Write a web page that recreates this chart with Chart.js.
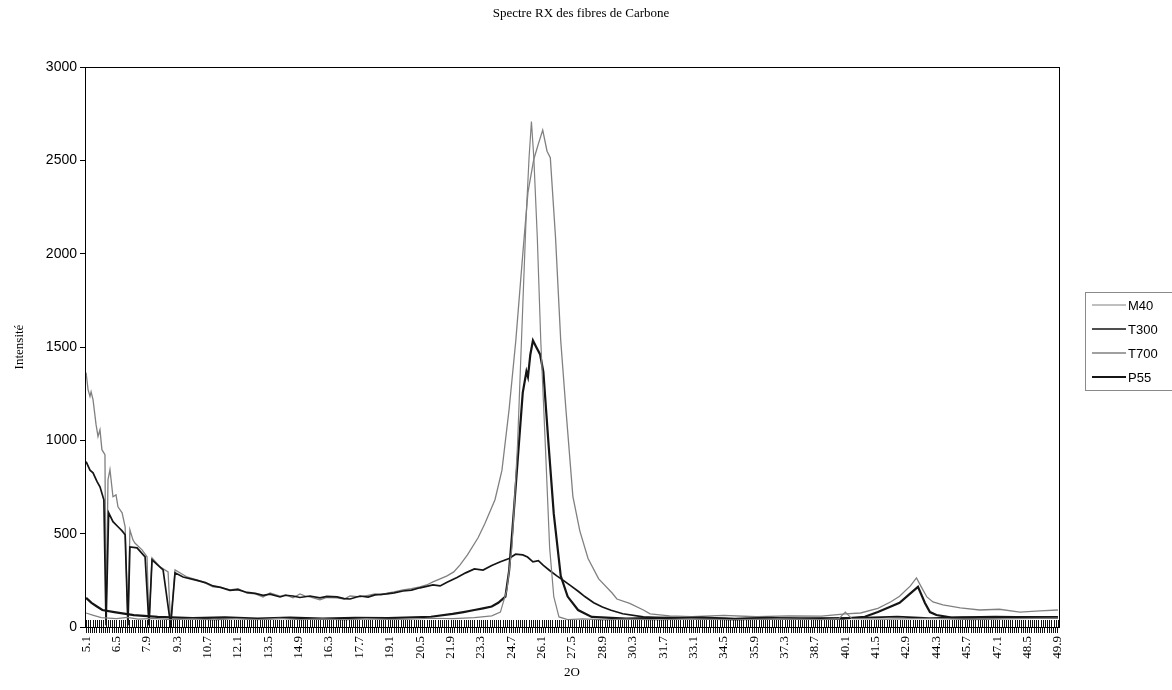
<!DOCTYPE html>
<html>
<head>
<meta charset="utf-8">
<script src="https://cdn.jsdelivr.net/npm/chart.js@4/dist/chart.umd.min.js"></script>
<style>
html,body{margin:0;padding:0;background:#fff;}
#c{display:block;}
</style>
</head>
<body>
<canvas id="c" width="1172" height="690"></canvas>
<script>
const chartTitle = 'Spectre RX des fibres de Carbone';
const xTitle = '2O';
const yTitle = 'Intensité';
const xTickLabels = ['5.1','6.5','7.9','9.3','10.7','12.1','13.5','14.9','16.3','17.7','19.1','20.5','21.9','23.3','24.7','26.1','27.5','28.9','30.3','31.7','33.1','34.5','35.9','37.3','38.7','40.1','41.5','42.9','44.3','45.7','47.1','48.5','49.9'];
const yTickValues = [0, 500, 1000, 1500, 2000, 2500, 3000];

// M40 (gray, sharp peak)
const m40X = [5.1,5.4,5.8,6.5,7.0,7.5,8.2,9,10,11,12,13,14,15,16,17,18,19,20,21,22,23,23.8,24.2,24.5,24.73,24.99,25.23,25.38,25.52,25.63,25.74,25.9,26.06,26.27,26.47,26.66,26.9,27.3,28,29,30,31.5,33,35,37,39,39.8,40.1,40.4,42,44,46,48,49.9];
const m40Y = [75,64,50,45,52,42,46,40,44,38,45,40,46,40,43,38,45,41,42,47,45,50,60,80,200,424,977,1717,2179,2514,2708,2514,2088,1535,977,424,163,54,40,44,38,42,38,44,38,43,40,45,80,45,42,46,40,45,48];

// T300 (black, broad hump)
const t300X = [5.1,5.28,5.42,5.6,5.74,5.92,6.02,6.14,6.34,6.57,6.76,6.9,7.03,7.12,7.45,7.82,8.0,8.14,8.65,9.0,9.2,9.57,10.21,10.6,10.95,11.3,11.73,12.1,12.52,12.9,13.26,13.58,14.04,14.3,14.64,14.96,15.42,15.88,16.2,16.67,17.0,17.27,17.73,18.1,18.42,18.97,19.3,19.71,20.1,20.49,20.8,21.09,21.42,21.74,22.2,22.6,23.0,23.4,23.8,24.2,24.6,24.9,25.23,25.45,25.7,25.95,26.18,26.5,26.8,27.1,27.45,27.8,28.09,28.5,28.9,29.3,29.84,30.79,32,33.5,35,36.5,38,39.5,41,42.5,44,45.5,47,48.5,49.9];
const t300Y = [886,840,826,780,751,681,10,612,564,537,515,494,10,429,424,376,10,360,306,10,290,268,250,238,220,212,196,200,185,180,170,176,161,170,166,158,166,156,164,161,152,150,166,160,172,177,183,193,198,210,218,226,220,240,265,290,311,305,330,350,367,390,386,375,349,355,330,300,274,250,220,190,163,130,107,90,71,54,48,52,45,50,45,48,50,56,48,52,50,54,55];

// T700 (gray, broad tall peak)
const t700X = [5.1,5.19,5.28,5.33,5.42,5.56,5.65,5.74,5.83,5.97,6.02,6.11,6.2,6.34,6.48,6.57,6.76,6.9,7.03,7.12,7.26,7.35,7.68,7.91,8.0,8.14,8.51,8.88,9.0,9.2,9.75,10.21,10.5,10.95,11.3,11.73,12.1,12.52,12.9,13.26,13.58,14.04,14.3,14.64,14.96,15.2,15.42,15.88,16.2,16.67,17.0,17.27,17.73,18.1,18.42,18.7,18.97,19.3,19.71,20.1,20.49,20.8,21.09,21.42,21.74,22.05,22.34,22.68,23.17,23.48,23.95,24.27,24.6,24.91,25.23,25.47,25.74,25.95,26.15,26.35,26.5,26.74,26.98,27.22,27.54,27.86,28.24,28.73,29.35,29.57,30.16,30.79,31.1,32,33,34.5,36,37.5,39,40.1,40.8,41.6,42.2,42.6,43.1,43.38,43.6,43.86,44.14,44.6,45.4,46.3,47.2,48.15,49.07,49.9];
const t700Y = [1363,1272,1235,1260,1218,1084,1020,1057,950,923,10,789,843,698,708,644,612,537,10,520,467,450,413,376,10,370,322,295,10,306,268,252,240,215,212,199,205,182,178,161,182,166,172,156,177,165,161,145,158,156,150,166,161,170,177,172,182,188,199,205,215,225,242,258,274,295,333,386,478,553,682,839,1165,1535,1997,2329,2506,2588,2662,2549,2514,2088,1535,1165,700,515,367,258,182,150,127,91,70,60,55,62,55,60,58,70,75,100,135,165,220,263,215,161,134,118,102,91,95,80,86,91];

// P55 (black, medium peak)
const p55X = [5.1,5.35,5.6,5.85,6.4,7.3,8.4,10,11.5,13,14.5,16,17.5,19,21,22,22.5,23.0,23.4,23.8,24.1,24.43,24.6,24.75,24.99,25.23,25.4,25.47,25.58,25.7,25.85,26.03,26.18,26.42,26.66,26.98,27.3,27.78,28.41,30,32,35,37.5,40,41,41.6,42.2,42.6,43.1,43.45,43.77,44.0,44.3,45,47,49.9];
const p55Y = [156,129,110,91,80,64,54,48,52,45,50,45,49,48,55,70,80,91,100,110,130,163,300,515,885,1256,1369,1340,1460,1535,1500,1460,1366,977,606,274,163,91,54,45,50,42,47,45,55,80,110,130,180,215,129,80,64,50,54,50];

function pts(xs, ys) { return xs.map((x, i) => ({ x: x, y: ys[i] })); }

const GRAY = '#808080';
const BLACK = '#151515';
const styles = {
  'M40': { color: GRAY, width: 1.2 },
  'T300': { color: BLACK, width: 1.7 },
  'T700': { color: GRAY, width: 1.3 },
  'P55': { color: BLACK, width: 2.2 }
};
const SERIF = '"Liberation Serif", "Times New Roman", serif';
const SANS = '"Liberation Sans", Arial, sans-serif';

const plotBorder = {
  id: 'plotBorder',
  afterDatasetsDraw(chart) {
    const a = chart.chartArea, ctx = chart.ctx;
    const xs = chart.scales.x;
    ctx.save();
    // inner half of the crossing category tick marks
    ctx.strokeStyle = '#111';
    ctx.lineWidth = 1;
    ctx.beginPath();
    xs.ticks.forEach(t => {
      const px = Math.round(xs.getPixelForValue(t.value)) + 0.5;
      ctx.moveTo(px, a.bottom - 7);
      ctx.lineTo(px, a.bottom);
    });
    ctx.stroke();
    ctx.strokeStyle = '#000';
    ctx.strokeRect(Math.round(a.left) + 0.5, Math.round(a.top) + 0.5, Math.round(a.right - a.left), Math.round(a.bottom - a.top));
    ctx.restore();
  }
};

const topTitle = {
  id: 'topTitle',
  afterDraw(chart) {
    const ctx = chart.ctx;
    ctx.save();
    ctx.font = '13px ' + SERIF;
    ctx.fillStyle = '#000';
    ctx.textAlign = 'center';
    ctx.textBaseline = 'middle';
    ctx.fillText(chartTitle, 581, 14);
    ctx.restore();
  }
};

const sideLegend = {
  id: 'sideLegend',
  afterDraw(chart) {
    const ctx = chart.ctx;
    const bx = 1085, by = 292, bw = 100, bh = 98;
    ctx.save();
    ctx.strokeStyle = '#8a8a8a';
    ctx.lineWidth = 1;
    ctx.strokeRect(bx + 0.5, by + 0.5, bw, bh);
    ctx.font = '13px ' + SANS;
    ctx.textBaseline = 'middle';
    ctx.fillStyle = '#000';
    chart.data.datasets.forEach((ds, i) => {
      const y = by + 13 + i * 24;
      ctx.strokeStyle = ds.borderColor;
      ctx.lineWidth = ds.borderWidth;
      ctx.beginPath();
      ctx.moveTo(bx + 7, y);
      ctx.lineTo(bx + 41, y);
      ctx.stroke();
      ctx.fillText(ds.label, bx + 43, y + 1);
    });
    ctx.restore();
  }
};

const datasets = [
  { label: 'M40', data: pts(m40X, m40Y) },
  { label: 'T300', data: pts(t300X, t300Y) },
  { label: 'T700', data: pts(t700X, t700Y) },
  { label: 'P55', data: pts(p55X, p55Y) }
].map(d => Object.assign(d, {
  borderColor: styles[d.label].color,
  backgroundColor: styles[d.label].color,
  borderWidth: styles[d.label].width,
  pointRadius: 0,
  tension: 0,
  fill: false
}));

new Chart(document.getElementById('c'), {
  type: 'line',
  data: { datasets: datasets },
  options: {
    responsive: false,
    animation: false,
    devicePixelRatio: 1,
    layout: { padding: { left: 8, right: 113, top: 67, bottom: 6 } },
    plugins: {
      legend: { display: false },
      tooltip: { enabled: false },
      title: { display: false }
    },
    scales: {
      x: {
        type: 'linear',
        min: 5.05,
        max: 49.95,
        afterBuildTicks(scale) {
          const t = [];
          for (let i = 51; i <= 499; i++) t.push({ value: i / 10 });
          scale.ticks = t;
        },
        afterFit(scale) { scale.height = 57; },
        ticks: {
          autoSkip: false,
          minRotation: 90,
          maxRotation: 90,
          padding: 3,
          color: '#000',
          font: { family: SERIF, size: 13 },
          callback(v) {
            const lab = xTickLabels.find(l => Math.abs(parseFloat(l) - v) < 1e-6);
            return lab === undefined ? '' : lab;
          }
        },
        grid: { drawOnChartArea: false, drawTicks: true, tickLength: 6, color: '#111', lineWidth: 1 },
        border: { display: true, color: '#000', width: 1 },
        title: {
          display: true, text: xTitle, color: '#000', padding: 4,
          font: { family: SERIF, size: 13 }
        }
      },
      y: {
        type: 'linear',
        min: 0,
        max: 3000,
        afterBuildTicks(scale) { scale.ticks = yTickValues.map(v => ({ value: v })); },
        afterFit(scale) { scale.width = 77; },
        ticks: {
          color: '#000',
          padding: 3,
          font: { family: SANS, size: 14 },
          callback(v) { return String(v); }
        },
        grid: { drawOnChartArea: false, drawTicks: true, tickLength: 5, color: '#000' },
        border: { display: true, color: '#000', width: 1 },
        title: {
          display: true, text: yTitle, color: '#000', padding: 4,
          font: { family: SERIF, size: 13 }
        }
      }
    }
  },
  plugins: [plotBorder, topTitle, sideLegend]
});
</script>
</body>
</html>
